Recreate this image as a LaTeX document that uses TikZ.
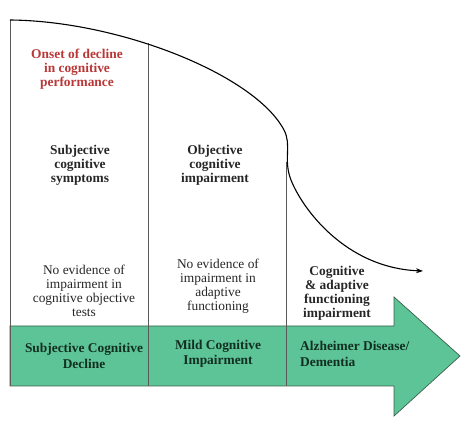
\documentclass[tikz,border=0pt]{standalone}
\usepackage{fontspec}
\setmainfont{Liberation Serif}
\usepackage{tikz}
\usetikzlibrary{arrows.meta, positioning}

\definecolor{bandgreen}{RGB}{93,196,152}
\definecolor{banddraw}{RGB}{60,95,75}
\definecolor{bandtext}{RGB}{18,46,32}
\definecolor{onsetred}{RGB}{185,55,55}

\begin{document}
\begin{tikzpicture}[
                x=1pt, y=-1pt,
                txt/.style={align=center, inner sep=0pt, font=\fontsize{13.4}{14}\selectfont, text=black!85},
                btxt/.style={txt, font=\fontsize{13.4}{14}\selectfont\bfseries},
                bandtxt/.style={btxt, font=\fontsize{13.4}{15.5}\selectfont\bfseries, text=bandtext},
                divider/.style={draw=black!65, line width=0.7pt},
                decline/.style={line width=1.1pt, -{Stealth[length=7pt, width=5pt]}}]
            \useasboundingbox (0,0) rectangle (474,427);

            % Bande verte (fleche)
            \draw[fill=bandgreen, draw=banddraw, line width=0.7pt]
                (10,326) -- (394,326) -- (394,297) -- (460,356) -- (394,416) -- (394,386) -- (10,386) -- cycle;

            % Separations
            \draw[divider] (10,20) -- (10,386);
            \draw[divider] (148,43) -- (148,386);
            \draw[divider] (286,162) -- (286,386);

            % Courbe de declin
            \coordinate (c0) at (10,20);
            \coordinate (c1) at (284,130);
            \coordinate (c2) at (291,180);
            \coordinate (c3) at (423,271);
            \draw[decline] (c0) .. controls (120,21) and (255,75) .. (c1)
                .. controls (292,145) and (283,160) .. (c2)
                .. controls (302,208) and (345,268) .. (c3);

            % Textes
            \node[btxt, text=onsetred] (onset) at (77,69) {Onset of decline\\in cognitive\\performance};
            \node[btxt] (subj) at (80,165) {Subjective\\cognitive\\symptoms};
            \node[btxt] (obj) at (215,165) {Objective\\cognitive\\impairment};
            \node[txt] (noev1) at (84,291) {No evidence of\\impairment in\\cognitive objective\\tests};
            \node[txt] (noev2) at (218,286) {No evidence of\\impairment in\\adaptive\\functioning};
            \node[btxt] (cogad) at (337,293) {Cognitive\\\& adaptive\\functioning\\impairment};

            % Stades
            \node[bandtxt] (scd) at (84,356) {Subjective Cognitive\\Decline};
            \node[bandtxt] (mci) at (218,354) {Mild Cognitive\\Impairment};
            \node[bandtxt, align=left, anchor=west] (ad) at (300,354) {Alzheimer Disease/\\Dementia};

        \end{tikzpicture}
\end{document}
